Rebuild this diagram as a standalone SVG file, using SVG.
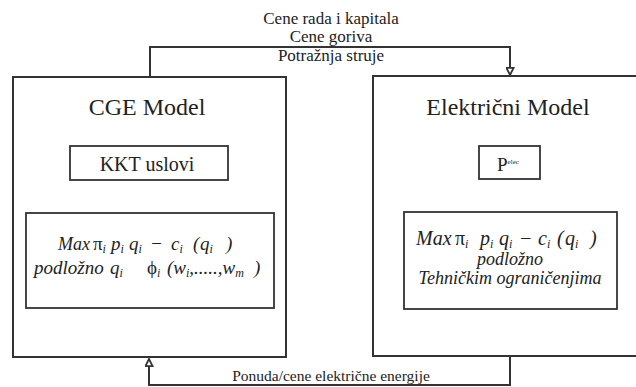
<svg xmlns="http://www.w3.org/2000/svg" width="636" height="387" viewBox="0 0 636 387" font-family="'Liberation Serif', 'DejaVu Serif', serif">
<defs>
<style>
.box{fill:none;stroke:#333;stroke-width:2}
.ibox{fill:none;stroke:#333;stroke-width:1.8}
.conn{fill:none;stroke:#333;stroke-width:2}
text{font-family:'Liberation Serif','DejaVu Serif',serif;fill:#222}
.lbl{font-size:17px;text-anchor:middle}
.title{font-size:24px;text-anchor:middle}
.sub{font-size:20px;text-anchor:middle}
.m{font-size:19px;font-style:italic}
.mr{font-size:20px;font-style:italic}
.mc{font-size:18px;font-style:italic;text-anchor:middle}
.s{font-size:12px}
.g{font-style:normal}
</style>
<marker id="ah" viewBox="0 0 10 10" refX="9" refY="5" markerWidth="10" markerHeight="9" orient="auto" markerUnits="userSpaceOnUse">
<path d="M1,1 L9,5 L1,9 Z" fill="#fff" stroke="#333" stroke-width="2"/>
</marker>
</defs>
<rect width="636" height="387" fill="#fff"/>

<g id="connectors">
<path class="conn" d="M150,77 V47 H510 V75" marker-end="url(#ah)"/>
<path class="conn" d="M510,356 V385 H149 V359" marker-end="url(#ah)"/>
<text class="lbl" x="331" y="24">Cene rada i kapitala</text>
<text class="lbl" x="331" y="42">Cene goriva</text>
<text class="lbl" x="331" y="61">Potražnja struje</text>
<text class="lbl" x="331" y="381" style="font-size:15.5px">Ponuda/cene električne energije</text>
</g>

<g id="cge">
<rect class="box" x="13" y="77" width="273" height="280"/>
<text class="title" x="147" y="115">CGE Model</text>
</g>

<g id="kkt">
<rect class="ibox" x="70" y="146" width="158" height="34"/>
<text class="sub" x="147" y="171">KKT uslovi</text>
</g>

<g id="cge-eq">
<rect class="ibox" x="26" y="213" width="248" height="95"/>
<text class="m" y="250"><tspan x="58" style="font-size:18px">Max</tspan><tspan x="93" class="g">π</tspan><tspan class="s" dy="3">i</tspan><tspan x="111" dy="-3">p</tspan><tspan class="s" dy="3">i</tspan><tspan x="129" dy="-3">q</tspan><tspan class="s" dy="3">i</tspan><tspan x="150" dy="-3">−</tspan><tspan x="171">c</tspan><tspan class="s" dy="3">i</tspan><tspan x="193" dy="-3">(</tspan><tspan x="200">q</tspan><tspan class="s" dy="3">i</tspan><tspan x="226" dy="-3">)</tspan></text>
<text class="m" y="274"><tspan x="34">podložno</tspan><tspan x="110">q</tspan><tspan class="s" dy="3">i</tspan><tspan x="147" class="g" dy="-3">ϕ</tspan><tspan class="s" dy="3">i</tspan><tspan x="167" dy="-3">(w</tspan><tspan class="s" dy="3">i</tspan><tspan dy="-3">,.....,w</tspan><tspan class="s" dy="3">m</tspan><tspan x="254" dy="-3">)</tspan></text>
</g>

<g id="elec">
<rect class="box" x="373" y="76" width="275" height="280"/>
<text class="title" x="508" y="115">Električni Model</text>
</g>

<g id="pelec">
<rect class="ibox" x="479" y="146" width="61" height="33"/>
<text x="497" y="171" style="font-size:19px">P<tspan style="font-size:7px" dy="-7">elec</tspan></text>
</g>

<g id="elec-eq">
<rect class="ibox" x="404" y="212" width="213" height="97"/>
<text class="mr" y="245"><tspan x="416">Max</tspan><tspan x="455" class="g">π</tspan><tspan class="s" dy="3">i</tspan><tspan x="480" dy="-3">p</tspan><tspan class="s" dy="3">i</tspan><tspan x="499" dy="-3">q</tspan><tspan class="s" dy="3">i</tspan><tspan x="519" dy="-3">−</tspan><tspan x="538">c</tspan><tspan class="s" dy="3">i</tspan><tspan x="557" dy="-3">(</tspan><tspan x="565">q</tspan><tspan class="s" dy="3">i</tspan><tspan x="590" dy="-3">)</tspan></text>
<text class="mc" x="510" y="265">podložno</text>
<text class="mc" x="510" y="284">Tehničkim ograničenjima</text>
</g>
</svg>
